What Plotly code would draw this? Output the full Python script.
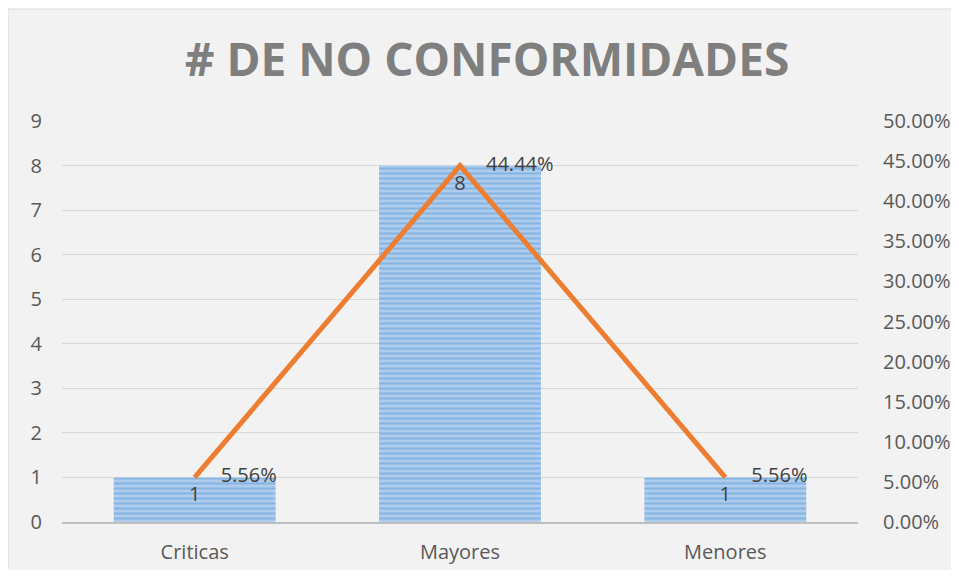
import plotly.graph_objects as go

categories = ["Criticas", "Mayores", "Menores"]
counts = [1, 8, 1]
percents = [0.0556, 0.4444, 0.0556]
title_text = "# DE NO CONFORMIDADES"

FONT = "Open Sans"
TICK_COLOR = "#595959"

W, H = 943, 562
L, T, PW, PH = 54, 113, 796, 401

fig = go.Figure()

fig.add_trace(go.Bar(
    x=categories, y=counts,
    marker=dict(color="#a9c9ec", line=dict(width=0),
                pattern=dict(shape="-", fgcolor="#5b9bd5", bgcolor="#aecdee", size=5, solidity=0.4)),
    text=[str(c) for c in counts],
    textposition="inside", insidetextanchor="end",
    textfont=dict(family=FONT, size=20, color="#404040"),
    showlegend=False, hoverinfo="skip",
))

fig.add_trace(go.Scatter(
    x=categories, y=percents, yaxis="y2",
    mode="lines+markers+text",
    line=dict(color="#ed7d31", width=5),
    marker=dict(size=40, color="rgba(0,0,0,0)"),
    texttemplate="%{y:.2%}", textposition="middle right",
    textfont=dict(family=FONT, size=20, color="#404040"),
    showlegend=False, hoverinfo="skip", cliponaxis=False,
))

# panel background
fig.add_shape(type="rect", xref="paper", yref="paper",
              x0=(0 - L) / PW, x1=1.3, y0=-0.3, y1=(T + PH - 1) / PH,
              fillcolor="#f2f2f2", line=dict(color="#d9d9d9", width=1), layer="below")

fig.update_layout(
    width=W, height=H,
    margin=dict(l=L, r=W - L - PW, t=T, b=H - T - PH, pad=0, autoexpand=False),
    paper_bgcolor="white", plot_bgcolor="rgba(0,0,0,0)",
    bargap=0.39,
    title=dict(text="<b>" + title_text + "</b>", x=479 / W, xanchor="center",
               y=1 - 52 / H, yanchor="middle",
               font=dict(family=FONT, size=46, color="#7f7f7f")),
    font=dict(family=FONT, color=TICK_COLOR),
    xaxis=dict(showline=True, linecolor="#bfbfbf", linewidth=2, showgrid=False, automargin=False,
               tickfont=dict(size=20, color=TICK_COLOR), ticks="outside", ticklen=11,
               tickcolor="rgba(0,0,0,0)", fixedrange=True),
    yaxis=dict(range=[0, 9], dtick=1, showgrid=True, gridcolor="#d9d9d9", gridwidth=1,
               zeroline=False, showline=False, automargin=False,
               tickfont=dict(size=20, color=TICK_COLOR), ticks="outside", ticklen=15,
               tickcolor="rgba(0,0,0,0)"),
    yaxis2=dict(range=[0, 0.5], dtick=0.05, tickformat=".2%", overlaying="y", side="right",
                showgrid=False, zeroline=False, showline=False, automargin=False,
                tickfont=dict(size=20, color=TICK_COLOR), ticks="outside", ticklen=20,
                tickcolor="rgba(0,0,0,0)"),
)

fig.write_html("out.html")
